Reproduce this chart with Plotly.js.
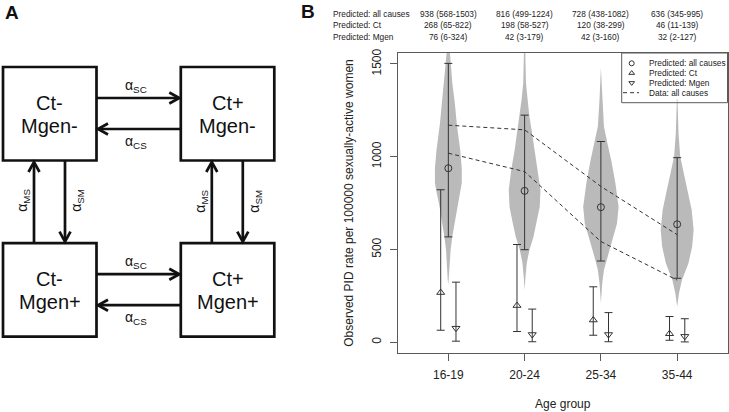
<!DOCTYPE html>
<html>
<head>
<meta charset="utf-8">
<script src="https://cdn.plot.ly/plotly-3.0.1.min.js"></script>
<style>
  html, body { margin: 0; padding: 0; background: #ffffff; }
  #fig { width: 729px; height: 412px; }
</style>
</head>
<body>
<div id="fig"></div>
<script>
// ---- panel B data ----
const ageGroups = ["16-19", "20-24", "25-34", "35-44"];

const allMid = [938, 816, 728, 636];
const allLo = [568, 499, 438, 345];
const allHi = [1503, 1224, 1082, 995];

const ctMid = [268, 198, 120, 46];
const ctLo = [65, 58, 38, 11];
const ctHi = [822, 527, 299, 139];

const mgMid = [76, 42, 42, 32];
const mgLo = [6, 3, 3, 2];
const mgHi = [324, 179, 160, 127];

// observed data, upper and lower dashed lines
const dataUpper = [1170, 1145, 840, 580];
const dataLower = [1019, 920, 543, 335];

// violin outlines: rate level and half width (age-group units)
const violinLevels = [
  [1600, 1505, 1397, 1289, 1172, 1037, 938, 858, 821, 731, 642, 570, 498, 426, 336, 310],
  [1600, 1397, 1307, 1217, 1127, 1037, 929, 821, 731, 642, 570, 498, 426, 354, 282],
  [1480, 1307, 1163, 1073, 983, 858, 731, 642, 552, 462, 390, 318, 212],
  [1310, 1127, 1001, 912, 821, 714, 606, 516, 426, 336, 264, 192]
];
const violinHalfWidths = [
  [0.013, 0.03, 0.052, 0.085, 0.112, 0.155, 0.176, 0.176, 0.16, 0.115, 0.078, 0.052, 0.03, 0.018, 0.008, 0],
  [0.007, 0.018, 0.04, 0.063, 0.098, 0.13, 0.176, 0.208, 0.198, 0.155, 0.117, 0.063, 0.028, 0.012, 0],
  [0, 0.018, 0.04, 0.085, 0.135, 0.19, 0.232, 0.212, 0.148, 0.085, 0.04, 0.018, 0],
  [0.004, 0.018, 0.04, 0.088, 0.135, 0.19, 0.216, 0.197, 0.148, 0.063, 0.024, 0]
];

const headerRows = ["Predicted: all causes", "Predicted: Ct", "Predicted: Mgen"];
const legendLabels = ["Predicted: all causes", "Predicted: Ct", "Predicted: Mgen", "Data: all causes"];

// ---- panel A data ----
const stateLines = [["Ct-", "Mgen-"], ["Ct+", "Mgen-"], ["Ct-", "Mgen+"], ["Ct+", "Mgen+"]];

const W = 729, H = 412;
const FONT = "Liberation Sans, Arial, sans-serif";
const ink = "#222222";
const frame = "#5a5a5a";
const violinGrey = "#bababa";

const xPos = ageGroups.map((_, i) => i + 1);
const ctOffset = -0.1, mgOffset = 0.1;

const traces = [];

// violins as filled outlines
violinLevels.forEach((lv, i) => {
  const w = violinHalfWidths[i];
  const c = xPos[i];
  const rev = lv.map((_, k) => lv.length - 1 - k);
  traces.push({
    type: "scatter",
    mode: "lines",
    x: lv.map((_, k) => c + w[k]).concat(rev.map((k) => c - w[k])),
    y: lv.concat(rev.map((k) => lv[k])),
    fill: "toself",
    fillcolor: violinGrey,
    line: { width: 0, color: violinGrey },
    hoverinfo: "skip",
    showlegend: false
  });
});

const errTrace = (xs, mid, lo, hi, symbol) => ({
  type: "scatter",
  mode: "markers",
  x: xs,
  y: mid,
  marker: { symbol, size: 7, color: "#333333", line: { color: "#333333", width: 1 } },
  error_y: {
    type: "data",
    symmetric: false,
    array: hi.map((h, i) => h - mid[i]),
    arrayminus: lo.map((l, i) => mid[i] - l),
    color: "#333333",
    thickness: 1,
    width: 4
  },
  showlegend: false,
  cliponaxis: false
});

traces.push(errTrace(xPos, allMid, allLo, allHi, "circle-open"));

[dataUpper, dataLower].forEach((vals) => {
  traces.push({
    type: "scatter",
    mode: "lines",
    x: xPos,
    y: vals,
    line: { color: "#333333", width: 1, dash: "4px,3px" },
    hoverinfo: "skip",
    showlegend: false
  });
});

traces.push(errTrace(xPos.map((x) => x + ctOffset), ctMid, ctLo, ctHi, "triangle-up-open"));
traces.push(errTrace(xPos.map((x) => x + mgOffset), mgMid, mgLo, mgHi, "triangle-down-open"));

// ---- legend of panel B (drawn by hand, pixel axes x2/y2) ----
const legBox = { x0: 621.7, y0: 53, x1: 727.5, y1: 102.7 };
const legRowY = (k) => 63.3 + k * 9.8;
const legSymX = 631.7;
const legTextX = 646.7;
traces.push({
  type: "scatter",
  mode: "markers",
  xaxis: "x2",
  yaxis: "y2",
  x: [legSymX, legSymX, legSymX],
  y: [0, 1, 2].map(legRowY),
  marker: {
    symbol: ["circle-open", "triangle-up-open", "triangle-down-open"],
    size: 5,
    color: "#333333",
    line: { color: "#333333", width: 1 }
  },
  hoverinfo: "skip",
  showlegend: false
});

const shapes = [];
const annotations = [];

shapes.push({
  type: "rect", xref: "x2", yref: "y2",
  x0: legBox.x0, x1: legBox.x1, y0: legBox.y0, y1: legBox.y1,
  line: { color: frame, width: 1 }, fillcolor: "rgba(0,0,0,0)"
});
shapes.push({
  type: "line", xref: "x2", yref: "y2",
  x0: 623, x1: 639, y0: legRowY(3), y1: legRowY(3),
  line: { color: "#333333", width: 1, dash: "4px,3px" }
});
legendLabels.forEach((t, k) => {
  annotations.push({
    xref: "x2", yref: "y2", x: legTextX, y: legRowY(k),
    text: t, showarrow: false, xanchor: "left", yanchor: "middle",
    font: { family: FONT, size: 8.3, color: ink }
  });
});

// ---- header table above panel B ----
const headerY = [14, 25, 36.7];
const headerVals = [
  [allMid, allLo, allHi],
  [ctMid, ctLo, ctHi],
  [mgMid, mgLo, mgHi]
];
headerRows.forEach((label, r) => {
  annotations.push({
    xref: "x2", yref: "y2", x: 330.7, y: headerY[r],
    text: label, showarrow: false, xanchor: "left", yanchor: "middle",
    font: { family: FONT, size: 8.3, color: ink }
  });
  const [m, lo, hi] = headerVals[r];
  xPos.forEach((x, i) => {
    annotations.push({
      xref: "x", yref: "y2", x, y: headerY[r],
      text: `${m[i]} (${lo[i]}-${hi[i]})`, showarrow: false,
      xanchor: "center", yanchor: "middle",
      font: { family: FONT, size: 8.3, color: ink }
    });
  });
});

// ---- panel letters ----
annotations.push(
  { xref: "x2", yref: "y2", x: 12, y: 12, text: "<b>A</b>", showarrow: false,
    font: { family: FONT, size: 19, color: "#111111" } },
  { xref: "x2", yref: "y2", x: 307.5, y: 11, text: "<b>B</b>", showarrow: false,
    font: { family: FONT, size: 19, color: "#111111" } }
);

// ---- panel A: state diagram ----
const boxLeft = [3, 180.8];
const boxTop = [67, 243.2];
const boxSize = 93.5;
const lane1 = 31, lane2 = 62;
const lw = 2.7;
const black = "#111111";

stateLines.forEach((lines, s) => {
  const col = s % 2, row = Math.floor(s / 2);
  const x0 = boxLeft[col], y0 = boxTop[row];
  shapes.push({
    type: "rect", xref: "x2", yref: "y2",
    x0, x1: x0 + boxSize, y0, y1: y0 + boxSize,
    line: { color: black, width: lw }, fillcolor: "rgba(0,0,0,0)"
  });
  const cx = x0 + boxSize / 2, cy = y0 + boxSize / 2;
  [-10.5, 12].forEach((dy, k) => {
    annotations.push({
      xref: "x2", yref: "y2", x: cx, y: cy + dy, text: lines[k], showarrow: false,
      xanchor: "center", yanchor: "middle",
      font: { family: FONT, size: 20, color: black }
    });
  });
});

const addArrow = (x0, y0, x1, y1) => {
  const dx = x1 - x0, dy = y1 - y0;
  const L = Math.hypot(dx, dy);
  const ux = dx / L, uy = dy / L;
  const nx = -uy, ny = ux;
  const bx = x1 - ux * 10, by = y1 - uy * 10;
  shapes.push({
    type: "line", xref: "x2", yref: "y2", x0, y0, x1: x1 - ux, y1: y1 - uy,
    line: { color: black, width: lw }
  });
  shapes.push({
    type: "path", xref: "x2", yref: "y2",
    path: `M${bx + nx * 5.5},${by + ny * 5.5}L${x1},${y1}L${bx - nx * 5.5},${by - ny * 5.5}`,
    line: { color: black, width: lw }
  });
};

const alpha = (sub) => `α<sub>${sub}</sub>`;
const aFont = { family: FONT, size: 14, color: black };
const gapL = boxLeft[0] + boxSize, gapR = boxLeft[1];
const gapT = boxTop[0] + boxSize, gapB = boxTop[1];
const midX = (gapL + gapR) / 2 - 2.5;
const midY = (gapT + gapB) / 2 - 1;

boxTop.forEach((top) => {
  // Ct- -> Ct+ (alpha SC), Ct+ -> Ct- (alpha CS)
  addArrow(gapL, top + lane1, gapR - 1.5, top + lane1);
  addArrow(gapR, top + lane2, gapL + 1.5, top + lane2);
  annotations.push(
    { xref: "x2", yref: "y2", x: midX, y: top + lane1 - 12, text: alpha("SC"), showarrow: false, font: aFont },
    { xref: "x2", yref: "y2", x: midX, y: top + lane2 + 13, text: alpha("CS"), showarrow: false, font: aFont }
  );
});

boxLeft.forEach((left) => {
  // Mgen+ -> Mgen- (alpha MS), Mgen- -> Mgen+ (alpha SM)
  addArrow(left + lane1, gapB, left + lane1, gapT + 1.5);
  addArrow(left + lane2, gapT, left + lane2, gapB - 1.5);
  annotations.push(
    { xref: "x2", yref: "y2", x: left + lane1 - 11, y: midY, text: alpha("MS"), showarrow: false,
      textangle: -90, font: aFont },
    { xref: "x2", yref: "y2", x: left + lane2 + 12, y: midY, text: alpha("SM"), showarrow: false,
      textangle: -90, font: aFont }
  );
});

const layout = {
  width: W,
  height: H,
  margin: { l: 0, r: 0, t: 0, b: 0 },
  paper_bgcolor: "#ffffff",
  plot_bgcolor: "rgba(0,0,0,0)",
  font: { family: FONT, size: 12, color: ink },
  showlegend: false,
  xaxis: {
    domain: [398 / W, 727.5 / W],
    range: [0.34, 4.66],
    tickmode: "array",
    tickvals: xPos,
    ticktext: ageGroups,
    ticks: "outside",
    ticklen: 7,
    tickcolor: frame,
    ticklabelstandoff: 4,
    showline: true,
    mirror: true,
    linecolor: frame,
    linewidth: 1,
    showgrid: false,
    zeroline: false,
    tickfont: { family: FONT, size: 12, color: ink },
    title: { text: "Age group", standoff: 18, font: { family: FONT, size: 12, color: ink } }
  },
  yaxis: {
    domain: [(H - 353) / H, (H - 53) / H],
    range: [-57.7, 1559],
    tickmode: "array",
    tickvals: [0, 500, 1000, 1500],
    tickangle: -90,
    ticks: "outside",
    ticklen: 7,
    tickcolor: frame,
    ticklabelstandoff: 4,
    showline: true,
    mirror: true,
    linecolor: frame,
    linewidth: 1,
    showgrid: false,
    zeroline: false,
    tickfont: { family: FONT, size: 12, color: ink },
    title: { text: "Observed PID rate per 100000 sexually-active women", standoff: 14,
      font: { family: FONT, size: 12, color: ink } }
  },
  xaxis2: { domain: [0, 1], range: [0, W], visible: false, anchor: "y2", fixedrange: true },
  yaxis2: { domain: [0, 1], range: [H, 0], visible: false, anchor: "x2", fixedrange: true },
  shapes,
  annotations
};

Plotly.newPlot("fig", traces, layout, { displayModeBar: false, staticPlot: true });
</script>
</body>
</html>
